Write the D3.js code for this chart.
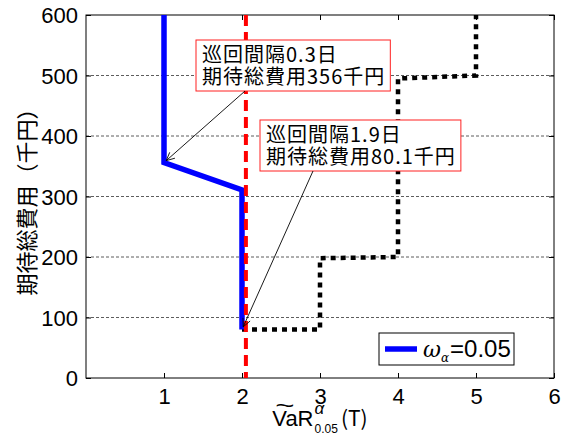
<!DOCTYPE html>
<html>
<head>
<meta charset="utf-8">
<script src="https://cdn.jsdelivr.net/npm/d3@7/dist/d3.min.js"></script>
<style>
  body { margin: 0; background: #fff; }
  text { font-family: "Liberation Sans", Arial, "Noto Sans CJK JP", sans-serif; }
  .jp { font-family: "Noto Sans CJK JP", sans-serif; }
</style>
</head>
<body>
<div id="chart"></div>
<script>
// ---- data ----
var blueX = [1, 1, 2, 2];
var blueY = [600, 356, 311, 80.1];
var blackX = [2, 3, 3, 4, 4, 5, 5];
var blackY = [80.1, 80.1, 198, 200, 495, 500, 600];
var redX = 2.05;
var xTicks = [1, 2, 3, 4, 5, 6];
var yTicks = [0, 100, 200, 300, 400, 500, 600];
var noteX = [1, 2];
var noteY = [356, 80.1];
var noteLines = [["巡回間隔0.3日", "期待総費用356千円"], ["巡回間隔1.9日", "期待総費用80.1千円"]];
var legendLabel = "=0.05";

// ---- layout ----
var svgWidth = 565, svgHeight = 439;
var margin = { top: 15, right: 11, bottom: 61, left: 86 };
var chartWidth = svgWidth - margin.left - margin.right;
var chartHeight = svgHeight - margin.top - margin.bottom;
var noteBoxes = [{ left: 110, top: 25, tail: 49 }, { left: 174, top: 105, tail: 53 }];

var svg = d3.select("#chart").append("svg")
  .attr("width", svgWidth).attr("height", svgHeight);
var chart = svg.append("g")
  .attr("transform", "translate(" + margin.left + "," + margin.top + ")");

var x = d3.scaleLinear().domain([0, 6]).range([0, chartWidth]);
var y = d3.scaleLinear().domain([0, 600]).range([chartHeight, 0]);

// grid lines (horizontal only)
chart.selectAll(".grid").data(yTicks.filter(function(d) { return d > 0 && d < 600; }))
  .enter().append("line")
  .attr("x1", 0).attr("x2", chartWidth)
  .attr("y1", function(d) { return y(d); }).attr("y2", function(d) { return y(d); })
  .attr("stroke", "#333").attr("stroke-width", 0.8).attr("stroke-dasharray", "3,2");

// axes, ticks inside, MATLAB style
var xAxis = chart.append("g").attr("transform", "translate(0," + chartHeight + ")")
  .call(d3.axisBottom(x).tickValues(xTicks).tickFormat(d3.format("d"))
    .tickSizeInner(-5).tickSizeOuter(0).tickPadding(10));
var yAxis = chart.append("g")
  .call(d3.axisLeft(y).tickValues(yTicks).tickSizeInner(-5).tickSizeOuter(0).tickPadding(8));
chart.append("g").call(d3.axisTop(x).tickValues(xTicks).tickSizeInner(-5).tickSizeOuter(0).tickFormat(""));
chart.append("g").attr("transform", "translate(" + chartWidth + ",0)")
  .call(d3.axisRight(y).tickValues(yTicks).tickSizeInner(-5).tickSizeOuter(0).tickFormat(""));
chart.selectAll(".domain").remove();
chart.selectAll(".tick line").attr("stroke", "#000");
xAxis.selectAll("text").attr("font-size", 22).attr("fill", "#000")
  .attr("font-family", "Liberation Sans, Arial, sans-serif");
yAxis.selectAll("text").attr("font-size", 22).attr("fill", "#000").attr("dy", "0.36em")
  .attr("font-family", "Liberation Sans, Arial, sans-serif");

chart.append("rect").attr("width", chartWidth).attr("height", chartHeight)
  .attr("fill", "none").attr("stroke", "#000").attr("stroke-width", 1);

// series
var line = d3.line().x(function(d) { return x(d[0]); }).y(function(d) { return y(d[1]); });
chart.append("path").datum(d3.zip(blackX, blackY)).attr("d", line)
  .attr("fill", "none").attr("stroke", "#000").attr("stroke-width", 4.5)
  .attr("stroke-dasharray", "5,5");
chart.append("path").datum(d3.zip(blueX, blueY)).attr("d", line)
  .attr("fill", "none").attr("stroke", "#0000ff").attr("stroke-width", 5.5);
chart.append("line").attr("x1", x(redX)).attr("x2", x(redX)).attr("y1", 0).attr("y2", chartHeight)
  .attr("stroke", "#ff0000").attr("stroke-width", 4).attr("stroke-dasharray", "11,6");

// annotations
noteLines.forEach(function(lines, i) {
  var b = noteBoxes[i];
  var g = chart.append("g");
  var rect = g.append("rect");
  var t = g.append("text").attr("class", "jp").attr("font-size", 20).attr("fill", "#000")
    .attr("letter-spacing", 1);
  lines.forEach(function(s, j) {
    t.append("tspan").attr("x", b.left + 6).attr("y", b.top + 22 + j * 22).text(s);
  });
  var w = d3.max(t.selectAll("tspan").nodes(), function(n) { return n.getComputedTextLength(); });
  var h = 51;
  rect.attr("x", b.left).attr("y", b.top).attr("width", w + 11).attr("height", h)
    .attr("fill", "#fff").attr("stroke", "#ff2020").attr("stroke-width", 1);
  // arrow
  var x0 = b.left + b.tail, y0 = b.top + h;
  var x1 = x(noteX[i]), y1 = y(noteY[i]);
  var a = Math.atan2(y1 - y0, x1 - x0);
  x1 -= 3 * Math.cos(a); y1 -= 3 * Math.sin(a);
  g.append("line").attr("x1", x0).attr("y1", y0).attr("x2", x1).attr("y2", y1)
    .attr("stroke", "#000").attr("stroke-width", 0.9);
  [0.45, -0.45].forEach(function(da) {
    g.append("line").attr("x1", x1).attr("y1", y1)
      .attr("x2", x1 - 9 * Math.cos(a + da)).attr("y2", y1 - 9 * Math.sin(a + da))
      .attr("stroke", "#000").attr("stroke-width", 0.9);
  });
});

// legend
var lg = chart.append("g").attr("transform", "translate(" + (379 - margin.left) + "," + (333 - margin.top) + ")");
lg.append("rect").attr("width", 135).attr("height", 32).attr("fill", "#fff").attr("stroke", "#000");
lg.append("line").attr("x1", 6).attr("x2", 38).attr("y1", 16).attr("y2", 16)
  .attr("stroke", "#0000ff").attr("stroke-width", 5.5);
var lt = lg.append("text").attr("x", 44).attr("y", 24).attr("font-size", 24).attr("fill", "#000");
lt.append("tspan").attr("font-style", "italic").attr("font-family", "DejaVu Serif, serif").attr("font-size", 22).text("ω");
lt.append("tspan").attr("font-style", "italic").attr("font-family", "DejaVu Serif, serif").attr("font-size", 12).attr("dy", 5).text("α");
lt.append("tspan").attr("dy", -5).attr("dx", 1).text(legendLabel);

// axis titles
svg.append("text").attr("class", "jp")
  .attr("transform", "translate(35," + (margin.top + chartHeight / 2) + ") rotate(-90)")
  .attr("text-anchor", "middle").attr("font-size", 22).attr("fill", "#000")
  .text("期待総費用（千円）");

var xt = svg.append("g");
var t1 = xt.append("text").attr("x", 0).attr("y", 426).attr("font-size", 22).attr("fill", "#000").text("VaR");
var w1 = t1.node().getComputedTextLength();
var t2 = xt.append("text").attr("x", w1 + 1).attr("y", 414).attr("font-size", 17).attr("font-style", "italic")
  .attr("font-family", "DejaVu Serif, serif").attr("fill", "#000").text("α");
var t3 = xt.append("text").attr("x", w1 + 1).attr("y", 433).attr("font-size", 12).attr("fill", "#000").text("0.05");
var w2 = Math.max(t2.node().getComputedTextLength(), t3.node().getComputedTextLength());
var t4 = xt.append("text").attr("class", "jp").attr("x", w1 + w2 + 4).attr("y", 426).attr("font-size", 21)
  .attr("fill", "#000").text("(T)");
var tw = w1 + w2 + 4 + t4.node().getComputedTextLength();
xt.append("text").attr("font-size", 22).attr("fill", "#000")
  .attr("transform", "translate(3,413) scale(1.5,1)").text("~");
xt.attr("transform", "translate(" + (margin.left + chartWidth / 2 - tw / 2) + ",0)");
</script>
</body>
</html>
